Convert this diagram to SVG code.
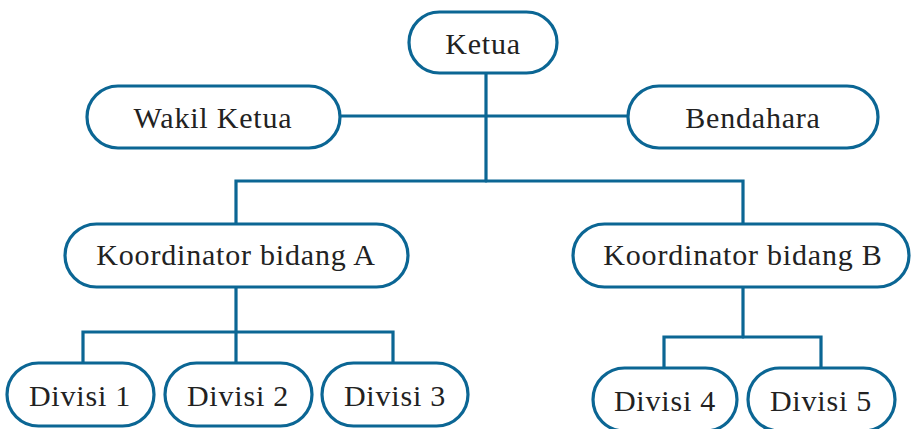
<svg xmlns="http://www.w3.org/2000/svg" width="911" height="429" viewBox="0 0 911 429">
<style>
.box{fill:#fff;stroke:#0b6694;stroke-width:3.2}
.lbl{font-family:"Liberation Serif",serif;font-size:30px;letter-spacing:0.8px;fill:#222;text-anchor:middle}
.con{fill:none;stroke:#0b6694;stroke-width:3.2;stroke-linecap:round;stroke-linejoin:miter}
</style>
<rect width="911" height="429" fill="#fff"/>
<g id="connectors">
<line class="con" x1="486" y1="73" x2="486" y2="181"/>
<line class="con" x1="340" y1="116" x2="628" y2="116"/>
<polyline class="con" points="236,224 236,181 743,181 743,224"/>
<line class="con" x1="236" y1="287" x2="236" y2="363"/>
<polyline class="con" points="83,363 83,332 393,332 393,363"/>
<line class="con" x1="743" y1="287" x2="743" y2="337"/>
<polyline class="con" points="664,368 664,337 821,337 821,368"/>
</g>
<g id="ketua"><rect class="box" x="409" y="12" width="148" height="61" rx="30.5"/><text class="lbl" x="483" y="54">Ketua</text></g>
<g id="wakil"><rect class="box" x="87" y="86" width="253" height="62" rx="31"/><text class="lbl" x="213" y="128">Wakil Ketua</text></g>
<g id="bendahara"><rect class="box" x="628" y="86" width="250" height="62" rx="31"/><text class="lbl" x="753" y="128">Bendahara</text></g>
<g id="koordA"><rect class="box" x="65" y="224" width="343" height="63" rx="31.5"/><text class="lbl" x="236" y="265">Koordinator bidang A</text></g>
<g id="koordB"><rect class="box" x="573" y="224" width="336" height="63" rx="31.5"/><text class="lbl" x="743" y="265">Koordinator bidang B</text></g>
<g id="divisi1"><rect class="box" x="7" y="363" width="147" height="63" rx="31.5"/><text class="lbl" x="80" y="406">Divisi 1</text></g>
<g id="divisi2"><rect class="box" x="165" y="363" width="147" height="63" rx="31.5"/><text class="lbl" x="238" y="406">Divisi 2</text></g>
<g id="divisi3"><rect class="box" x="322" y="363" width="146" height="63" rx="31.5"/><text class="lbl" x="395" y="406">Divisi 3</text></g>
<g id="divisi4"><rect class="box" x="593" y="368" width="144" height="63" rx="31.5"/><text class="lbl" x="665" y="411">Divisi 4</text></g>
<g id="divisi5"><rect class="box" x="748" y="368" width="147" height="63" rx="31.5"/><text class="lbl" x="821" y="411">Divisi 5</text></g>
</svg>
